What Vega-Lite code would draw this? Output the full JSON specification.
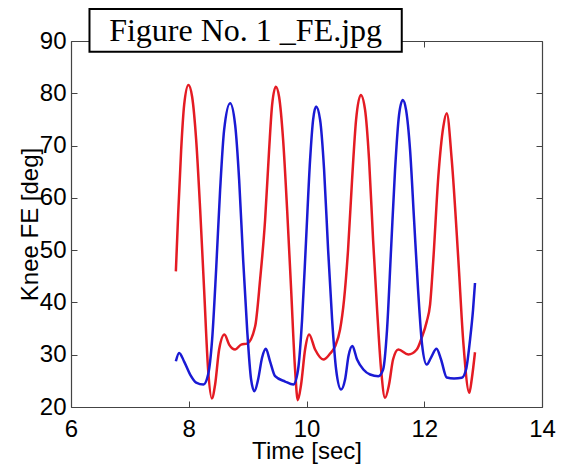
{
  "$schema": "https://vega.github.io/schema/vega-lite/v6.json",
  "width": 471,
  "height": 366,
  "autosize": {"type": "none"},
  "padding": {"left": 71, "top": 41, "right": 28, "bottom": 59},
  "background": "white",
  "config": {"view": {"stroke": null}, "axis": {"grid": false}},
  "datasets": {
    "curves": [
      {"series": "Series 1", "t": 7.781, "deg": 45.94},
      {"series": "Series 1", "t": 7.820, "deg": 56.77},
      {"series": "Series 1", "t": 7.871, "deg": 69.18},
      {"series": "Series 1", "t": 7.922, "deg": 77.78},
      {"series": "Series 1", "t": 7.995, "deg": 81.60},
      {"series": "Series 1", "t": 8.058, "deg": 79.30},
      {"series": "Series 1", "t": 8.126, "deg": 71.09},
      {"series": "Series 1", "t": 8.194, "deg": 57.72},
      {"series": "Series 1", "t": 8.261, "deg": 42.44},
      {"series": "Series 1", "t": 8.329, "deg": 27.17},
      {"series": "Series 1", "t": 8.392, "deg": 21.63},
      {"series": "Series 1", "t": 8.448, "deg": 24.30},
      {"series": "Series 1", "t": 8.516, "deg": 30.99},
      {"series": "Series 1", "t": 8.606, "deg": 33.85},
      {"series": "Series 1", "t": 8.686, "deg": 31.94},
      {"series": "Series 1", "t": 8.788, "deg": 30.99},
      {"series": "Series 1", "t": 8.890, "deg": 31.94},
      {"series": "Series 1", "t": 8.992, "deg": 32.13},
      {"series": "Series 1", "t": 9.127, "deg": 35.38},
      {"series": "Series 1", "t": 9.212, "deg": 44.35},
      {"series": "Series 1", "t": 9.297, "deg": 55.81},
      {"series": "Series 1", "t": 9.365, "deg": 69.18},
      {"series": "Series 1", "t": 9.416, "deg": 77.78},
      {"series": "Series 1", "t": 9.479, "deg": 81.27},
      {"series": "Series 1", "t": 9.535, "deg": 79.30},
      {"series": "Series 1", "t": 9.603, "deg": 71.09},
      {"series": "Series 1", "t": 9.671, "deg": 57.72},
      {"series": "Series 1", "t": 9.739, "deg": 42.44},
      {"series": "Series 1", "t": 9.806, "deg": 27.17},
      {"series": "Series 1", "t": 9.852, "deg": 21.30},
      {"series": "Series 1", "t": 9.908, "deg": 24.30},
      {"series": "Series 1", "t": 9.976, "deg": 30.99},
      {"series": "Series 1", "t": 10.044, "deg": 33.85},
      {"series": "Series 1", "t": 10.146, "deg": 30.99},
      {"series": "Series 1", "t": 10.287, "deg": 29.08},
      {"series": "Series 1", "t": 10.401, "deg": 30.22},
      {"series": "Series 1", "t": 10.486, "deg": 31.62},
      {"series": "Series 1", "t": 10.570, "deg": 34.81},
      {"series": "Series 1", "t": 10.638, "deg": 40.53},
      {"series": "Series 1", "t": 10.706, "deg": 50.08},
      {"series": "Series 1", "t": 10.774, "deg": 63.45},
      {"series": "Series 1", "t": 10.842, "deg": 74.91},
      {"series": "Series 1", "t": 10.922, "deg": 79.69},
      {"series": "Series 1", "t": 10.995, "deg": 76.82},
      {"series": "Series 1", "t": 11.063, "deg": 67.27},
      {"series": "Series 1", "t": 11.131, "deg": 51.99},
      {"series": "Series 1", "t": 11.199, "deg": 38.62},
      {"series": "Series 1", "t": 11.267, "deg": 27.17},
      {"series": "Series 1", "t": 11.334, "deg": 21.76},
      {"series": "Series 1", "t": 11.402, "deg": 24.30},
      {"series": "Series 1", "t": 11.470, "deg": 29.08},
      {"series": "Series 1", "t": 11.560, "deg": 30.99},
      {"series": "Series 1", "t": 11.730, "deg": 30.03},
      {"series": "Series 1", "t": 11.873, "deg": 30.99},
      {"series": "Series 1", "t": 11.958, "deg": 33.28},
      {"series": "Series 1", "t": 12.042, "deg": 36.33},
      {"series": "Series 1", "t": 12.099, "deg": 39.58},
      {"series": "Series 1", "t": 12.154, "deg": 48.17},
      {"series": "Series 1", "t": 12.239, "deg": 64.08},
      {"series": "Series 1", "t": 12.324, "deg": 73.63},
      {"series": "Series 1", "t": 12.382, "deg": 76.19},
      {"series": "Series 1", "t": 12.467, "deg": 67.27},
      {"series": "Series 1", "t": 12.579, "deg": 48.17},
      {"series": "Series 1", "t": 12.664, "deg": 32.32},
      {"series": "Series 1", "t": 12.766, "deg": 22.72},
      {"series": "Series 1", "t": 12.806, "deg": 25.26},
      {"series": "Series 1", "t": 12.862, "deg": 30.47},
      {"series": "Series 2", "t": 7.781, "deg": 28.75},
      {"series": "Series 2", "t": 7.837, "deg": 30.35},
      {"series": "Series 2", "t": 7.922, "deg": 28.69},
      {"series": "Series 2", "t": 8.024, "deg": 26.21},
      {"series": "Series 2", "t": 8.126, "deg": 24.68},
      {"series": "Series 2", "t": 8.250, "deg": 24.30},
      {"series": "Series 2", "t": 8.329, "deg": 26.21},
      {"series": "Series 2", "t": 8.397, "deg": 32.90},
      {"series": "Series 2", "t": 8.465, "deg": 46.26},
      {"series": "Series 2", "t": 8.533, "deg": 61.54},
      {"series": "Series 2", "t": 8.601, "deg": 73.00},
      {"series": "Series 2", "t": 8.703, "deg": 78.10},
      {"series": "Series 2", "t": 8.788, "deg": 73.96},
      {"series": "Series 2", "t": 8.856, "deg": 63.45},
      {"series": "Series 2", "t": 8.924, "deg": 48.17},
      {"series": "Series 2", "t": 8.992, "deg": 34.81},
      {"series": "Series 2", "t": 9.059, "deg": 25.26},
      {"series": "Series 2", "t": 9.115, "deg": 23.02},
      {"series": "Series 2", "t": 9.178, "deg": 25.26},
      {"series": "Series 2", "t": 9.246, "deg": 29.46},
      {"series": "Series 2", "t": 9.309, "deg": 31.12},
      {"series": "Series 2", "t": 9.382, "deg": 28.69},
      {"series": "Series 2", "t": 9.467, "deg": 25.89},
      {"series": "Series 2", "t": 9.637, "deg": 24.87},
      {"series": "Series 2", "t": 9.778, "deg": 24.30},
      {"series": "Series 2", "t": 9.857, "deg": 27.17},
      {"series": "Series 2", "t": 9.925, "deg": 36.72},
      {"series": "Series 2", "t": 9.993, "deg": 51.99},
      {"series": "Series 2", "t": 10.061, "deg": 67.27},
      {"series": "Series 2", "t": 10.112, "deg": 74.91},
      {"series": "Series 2", "t": 10.163, "deg": 77.45},
      {"series": "Series 2", "t": 10.231, "deg": 74.91},
      {"series": "Series 2", "t": 10.299, "deg": 65.36},
      {"series": "Series 2", "t": 10.367, "deg": 50.08},
      {"series": "Series 2", "t": 10.435, "deg": 36.72},
      {"series": "Series 2", "t": 10.503, "deg": 27.17},
      {"series": "Series 2", "t": 10.587, "deg": 23.35},
      {"series": "Series 2", "t": 10.655, "deg": 25.26},
      {"series": "Series 2", "t": 10.715, "deg": 29.84},
      {"series": "Series 2", "t": 10.779, "deg": 31.65},
      {"series": "Series 2", "t": 10.859, "deg": 29.08},
      {"series": "Series 2", "t": 10.966, "deg": 27.17},
      {"series": "Series 2", "t": 11.080, "deg": 26.21},
      {"series": "Series 2", "t": 11.221, "deg": 25.89},
      {"series": "Series 2", "t": 11.301, "deg": 27.17},
      {"series": "Series 2", "t": 11.368, "deg": 34.81},
      {"series": "Series 2", "t": 11.436, "deg": 50.08},
      {"series": "Series 2", "t": 11.504, "deg": 65.36},
      {"series": "Series 2", "t": 11.572, "deg": 75.87},
      {"series": "Series 2", "t": 11.635, "deg": 78.73},
      {"series": "Series 2", "t": 11.691, "deg": 76.82},
      {"series": "Series 2", "t": 11.759, "deg": 69.18},
      {"series": "Series 2", "t": 11.827, "deg": 55.81},
      {"series": "Series 2", "t": 11.895, "deg": 42.44},
      {"series": "Series 2", "t": 11.963, "deg": 31.94},
      {"series": "Series 2", "t": 12.042, "deg": 28.12},
      {"series": "Series 2", "t": 12.115, "deg": 29.46},
      {"series": "Series 2", "t": 12.209, "deg": 31.12},
      {"series": "Series 2", "t": 12.285, "deg": 29.08},
      {"series": "Series 2", "t": 12.382, "deg": 25.64},
      {"series": "Series 2", "t": 12.506, "deg": 25.45},
      {"series": "Series 2", "t": 12.637, "deg": 25.58},
      {"series": "Series 2", "t": 12.710, "deg": 27.17},
      {"series": "Series 2", "t": 12.778, "deg": 32.90},
      {"series": "Series 2", "t": 12.829, "deg": 38.62},
      {"series": "Series 2", "t": 12.862, "deg": 43.72}
    ],
    "label": [
      {"label": "Figure No. 1 _FE.jpg", "x1": 6.314, "x2": 11.618, "xc": 8.966, "y1": 87.96, "y2": 96.11, "yb": 90.0}
    ]
  },
  "layer": [
    {
      "data": {"name": "curves"},
      "mark": {"type": "line", "strokeWidth": 2.5, "interpolate": "monotone"},
      "encoding": {
        "x": {
          "field": "t", "type": "quantitative",
          "scale": {"domain": [6, 14], "nice": false, "zero": false},
          "axis": {
            "orient": "bottom", "values": [6, 8, 10, 12, 14], "format": "d",
            "tickSize": -6, "tickColor": "#444", "domainColor": "#444", "domainWidth": 1.2,
            "labelPadding": 16, "labelFontSize": 24, "labelFont": "Liberation Sans", "labelColor": "black",
            "labelFlush": false, "labelOverlap": false,
            "title": "Time [sec]", "titleFontSize": 24, "titleFont": "Liberation Sans", "titleFontWeight": "normal",
            "titleColor": "black", "titleBaseline": "alphabetic", "titleY": 51
          }
        },
        "y": {
          "field": "deg", "type": "quantitative",
          "scale": {"domain": [20, 90], "nice": false, "zero": false},
          "axis": {
            "orient": "left", "values": [20, 30, 40, 50, 60, 70, 80, 90], "format": "d",
            "tickSize": -6, "tickColor": "#444", "domainColor": "#444", "domainWidth": 1.2,
            "labelPadding": 11, "labelFontSize": 24, "labelFont": "Liberation Sans", "labelColor": "black",
            "labelFlush": false, "labelOverlap": false,
            "title": "Knee FE [deg]", "titleFontSize": 24, "titleFont": "Liberation Sans", "titleFontWeight": "normal",
            "titleColor": "black", "titleAngle": -90, "titleBaseline": "middle", "titleAlign": "center",
            "titleX": -41, "titleY": 183
          }
        },
        "color": {
          "field": "series", "type": "nominal",
          "scale": {"domain": ["Series 1", "Series 2"], "range": ["#e41b23", "#1a1ad4"]},
          "legend": null
        }
      }
    },
    {
      "data": {"name": "curves"},
      "mark": {"type": "line", "opacity": 0},
      "encoding": {
        "x": {
          "field": "t", "type": "quantitative",
          "axis": {"orient": "top", "values": [6, 8, 10, 12, 14], "labels": false, "title": null,
                   "tickSize": -6, "tickColor": "#444", "domainColor": "#444", "domainWidth": 1.2}
        },
        "y": {
          "field": "deg", "type": "quantitative",
          "axis": {"orient": "right", "values": [20, 30, 40, 50, 60, 70, 80, 90], "labels": false, "title": null,
                   "tickSize": -6, "tickColor": "#444", "domainColor": "#444", "domainWidth": 1.2}
        },
        "detail": {"field": "series"}
      }
    },
    {
      "data": {"name": "label"},
      "mark": {"type": "rect", "fill": "white", "stroke": "black", "strokeWidth": 2, "clip": false},
      "encoding": {
        "x": {"field": "x1", "type": "quantitative", "axis": null},
        "x2": {"field": "x2"},
        "y": {"field": "y1", "type": "quantitative", "axis": null},
        "y2": {"field": "y2"}
      }
    },
    {
      "data": {"name": "label"},
      "mark": {"type": "text", "font": "Liberation Serif", "fontSize": 32, "baseline": "alphabetic", "align": "center", "color": "black", "clip": false},
      "encoding": {
        "x": {"field": "xc", "type": "quantitative", "axis": null},
        "y": {"field": "yb", "type": "quantitative", "axis": null},
        "text": {"field": "label"}
      }
    }
  ],
  "resolve": {"axis": {"x": "independent", "y": "independent"}}
}
